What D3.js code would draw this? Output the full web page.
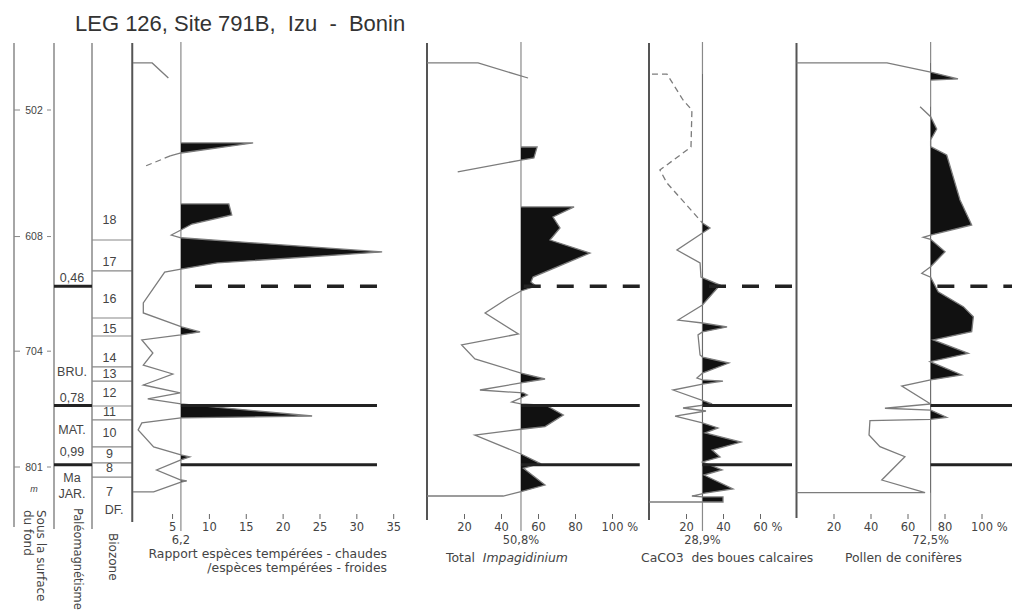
<!DOCTYPE html>
<html>
<head>
<meta charset="utf-8">
<script src="https://cdn.jsdelivr.net/npm/d3@7"></script>
<style>
  body { margin: 0; background: #fff; }
  .sans { font-family: "DejaVu Sans", sans-serif; fill: #444; }
  .arial { font-family: "Liberation Sans", Arial, sans-serif; fill: #444; }
</style>
</head>
<body>
<svg id="chart" width="1012" height="614"></svg>
<script>
// depth scale (m below sea floor)
const depthTicks = [502, 608, 704, 801];

// biozones and paleomagnetic boundaries, in metres
const biozoneBounds = [610.9, 636.8, 676.2, 691.3, 717.2, 729.0, 749.9, 761.6, 784.2, 797.6, 809.4];
const biozoneNames = ["18", "17", "16", "15", "14", "13", "12", "11", "10", "9", "8", "7", "DF."];
const biozoneNameDepths = [594.1, 628.5, 659.5, 684.6, 708.9, 723.1, 738.2, 754.9, 772.5, 790.1, 801.8, 821.9, 836.2];
const reversalDepths = [649.6, 749.4, 799.2];
const paleoNames = ["0,46", "BRU.", "0,78", "MAT.", "0,99", "Ma", "JAR."];
const paleoNameDepths = [641.9, 721.4, 742.4, 769.2, 788.4, 809.4, 822.8];

// axis ticks and reference values of the four curves
const ratioTicks = [5, 10, 15, 20, 25, 30, 35];
const impTicks = [20, 40, 60, 80, 100];
const caTicks = [20, 40, 60];
const pollTicks = [20, 40, 60, 80, 100];
const baselines = [6.2, 50.8, 28.9, 72.5];
const baselineLabels = ["6,2", "50,8%", "28,9%", "72,5%"];

// curves: [depth, value]
const ratioTop = [[462.6, -0.3], [462.6, 2.3], [475.2, 4.5]];
const ratioUpper = [[529.6, 6.2], [529.6, 16.0], [538.0, 6.2], [540.5, 4.75]];
const ratioUpperDash = [[540.5, 4.75], [548.9, 1.4]];
const ratioMain = [
  [580.7, 6.2], [580.7, 12.7], [589.9, 13.1], [597.5, 7.7], [602.5, 6.2], [606.7, 4.9],
  [609.0, 6.2], [620.9, 33.5], [630.1, 11.1], [635.2, 6.2], [637.7, 4.0], [663.6, 1.1],
  [672.0, 1.1], [683.7, 6.3], [687.9, 8.8], [690.4, 6.2], [694.6, 0.9], [705.5, 2.4],
  [715.6, 1.1], [723.1, 5.1], [732.3, 1.1], [739.0, 6.1], [744.0, 1.7], [748.2, 6.2],
  [758.3, 24.0], [759.9, 6.2], [764.1, 0.9], [770.0, 0.4], [784.2, 2.5], [790.9, 6.2],
  [792.6, 7.4], [795.1, 6.2], [803.5, 2.9], [811.9, 6.2], [812.7, 7.0], [813.6, 6.2],
  [821.9, 2.5], [821.9, -0.3]
];

const impTop = [[462.6, 0], [462.6, 27.6], [475.2, 54.6]];
const impUpper = [[533.0, 50.8], [533.0, 59.5], [542.2, 57.8], [543.9, 50.8], [553.9, 16.6]];
const impMain = [
  [583.2, 50.8], [583.2, 79.5], [591.6, 68.1], [600.8, 71.9], [610.9, 66.5], [621.8, 88.1],
  [641.9, 57.3], [646.1, 56.2], [649.4, 58.9], [653.6, 50.8], [659.5, 43.9], [672.0, 31.4],
  [689.6, 49.4], [698.8, 18.7], [710.5, 25.9], [722.3, 50.8], [727.3, 63.8], [730.6, 50.8],
  [736.5, 28.6], [739.0, 52.1], [740.7, 54.2], [746.6, 45.8], [748.2, 50.8], [749.5, 64.5],
  [757.4, 73.7], [767.2, 63.8], [769.4, 50.8], [774.2, 25.9], [790.1, 50.8], [797.9, 61.1],
  [802.1, 52.1], [816.1, 63.8], [821.7, 50.8], [825.3, 41.2], [825.3, 0]
];

const caDash = [[471.9, 1.6], [471.9, 9.7], [493.6, 18.4], [502.0, 23.2], [533.0, 22.7], [552.3, 5.9], [563.1, 9.7], [596.6, 28.9]];
const caMain = [
  [596.6, 28.9], [600.8, 33.0], [605.0, 28.9], [619.3, 15.1], [630.1, 27.6], [641.9, 28.1],
  [648.6, 38.4], [665.3, 28.9], [677.9, 15.7], [680.4, 28.9], [683.7, 42.2], [687.9, 28.9],
  [690.4, 26.5], [707.2, 27.6], [708.9, 28.9], [713.9, 43.2], [722.3, 28.9], [726.5, 25.9],
  [728.1, 28.9], [729.0, 40.0], [731.5, 28.9], [736.5, 13.0], [748.2, 34.1], [751.6, 18.4],
  [754.1, 30.8], [758.3, 14.1], [764.1, 28.9], [768.3, 37.3], [772.5, 30.3], [780.1, 49.7],
  [786.8, 34.1], [792.6, 38.4], [796.8, 28.9], [803.5, 39.5], [807.7, 29.7], [819.4, 45.4],
  [822.8, 30.3], [825.3, 23.2], [826.1, 28.9], [826.1, 40.0], [830.3, 40.0], [830.3, 0]
];

const pollTop = [[462.6, 0], [462.6, 48.9], [470.2, 72.5], [476.0, 87.3], [476.9, 72.5]];
const pollMain = [
  [499.2, 66.8], [507.6, 72.5], [517.9, 75.8], [527.1, 72.5], [532.7, 72.5], [539.7, 81.2],
  [577.4, 88.4], [598.3, 94.7], [606.7, 72.5], [608.6, 68.5], [610.3, 72.5], [620.7, 80.3],
  [633.2, 72.5], [638.8, 67.7], [642.1, 72.5], [654.2, 76.6], [666.7, 90.2], [675.1, 95.6],
  [687.7, 94.7], [694.6, 73.9], [705.8, 92.9], [712.8, 72.2], [723.9, 89.3], [728.1, 72.5],
  [733.2, 56.9], [748.2, 72.5], [751.8, 47.8], [753.3, 72.5], [759.4, 81.2], [761.1, 72.5],
  [762.2, 39.7], [774.2, 39.2], [784.0, 45.1], [792.4, 58.6], [811.9, 46.1], [822.5, 69.5],
  [822.5, 0]
];

const svg = d3.select("#chart");
const y = d3.scaleLinear().domain([502, 801]).range([110, 467]);

// title
svg.append("text").attr("class", "arial").attr("x", 75).attr("y", 30.5)
  .attr("font-size", 22).style("white-space", "pre").style("fill", "#333")
  .text("LEG 126, Site 791B,  Izu  -  Bonin");

// left columns: depth | paleomagnetism | biozone
const colX = [14, 54, 92];
const colBottom = [527, 529, 529];
colX.forEach((cx, i) => {
  svg.append("line").attr("x1", cx).attr("x2", cx).attr("y1", 43).attr("y2", colBottom[i])
    .attr("stroke", "#888").attr("stroke-width", 1.5);
});

depthTicks.forEach(d => {
  svg.append("line").attr("x1", 14).attr("x2", 20).attr("y1", y(d)).attr("y2", y(d)).attr("stroke", "#888");
  svg.append("line").attr("x1", 47).attr("x2", 51).attr("y1", y(d)).attr("y2", y(d)).attr("stroke", "#888");
  svg.append("text").attr("class", "arial").attr("x", 34).attr("y", y(d) + 3.7)
    .attr("text-anchor", "middle").attr("font-size", 10.5).text(d);
});
svg.append("text").attr("class", "arial").attr("x", 34).attr("y", 492)
  .attr("text-anchor", "middle").attr("font-size", 9).attr("font-style", "italic").text("m");

biozoneBounds.forEach(d => {
  svg.append("line").attr("x1", 92).attr("x2", 132).attr("y1", y(d)).attr("y2", y(d))
    .attr("stroke", "#888").attr("stroke-width", 1.2);
});
biozoneNames.forEach((t, i) => {
  svg.append("text").attr("class", "arial").attr("x", t === "DF." ? 114 : 109.5)
    .attr("y", y(biozoneNameDepths[i]) + 4.5).attr("text-anchor", "middle")
    .attr("font-size", 12.5).text(t);
});
reversalDepths.forEach(d => {
  svg.append("line").attr("x1", 54).attr("x2", 92).attr("y1", y(d)).attr("y2", y(d))
    .attr("stroke", "#222").attr("stroke-width", 3);
});
paleoNames.forEach((t, i) => {
  svg.append("text").attr("class", "arial").attr("x", 72)
    .attr("y", y(paleoNameDepths[i]) + 4.5).attr("text-anchor", "middle")
    .attr("font-size", 12.5).text(t);
});

// rotated column titles: text, x, y, size
const colTitles = [["Sous la surface", 37, 510, 12], ["du fond", 24, 510, 12], ["Paléomagnétisme", 74, 508, 11.4], ["Biozone", 109, 533, 12]];
colTitles.forEach(c => {
  svg.append("text").attr("class", "sans").attr("font-size", c[3])
    .attr("transform", `translate(${c[1]},${c[2]}) rotate(90)`).text(c[0]);
});

class StratPanel {
  constructor(_config, _data) {
    this.config = _config;
    this.data = _data;
    this.initVis();
  }

  initVis() {
    let vis = this;
    const c = vis.config;

    vis.x = d3.scaleLinear().domain(c.domain).range(c.range);
    vis.g = svg.append("g");
    const xb = vis.x(c.base);

    // left border of the panel
    vis.g.append("line").attr("x1", vis.x(c.edge)).attr("x2", vis.x(c.edge))
      .attr("y1", 43).attr("y2", c.edgeBottom).attr("stroke", "#555").attr("stroke-width", 2);

    // reference value line
    vis.g.append("line").attr("x1", xb).attr("x2", xb).attr("y1", 42).attr("y2", 531)
      .attr("stroke", "#8a8a8a").attr("stroke-width", 1.2);

    // black fill only right of the reference value
    svg.append("clipPath").attr("id", "clip-" + c.key)
      .append("rect").attr("x", xb).attr("y", 0).attr("width", 1012 - xb).attr("height", 614);

    vis.area = d3.area().y(d => y(d[0])).x0(xb).x1(d => vis.x(d[1]));
    vis.line = d3.line().y(d => y(d[0])).x(d => vis.x(d[1]));

    vis.g.selectAll(".fill")
      .data(vis.data.filter(d => !d.noFill))
      .join("path")
      .attr("class", "fill")
      .attr("clip-path", `url(#clip-${c.key})`)
      .attr("d", d => vis.area(d.pts))
      .attr("fill", "#111");

    vis.g.selectAll(".curve")
      .data(vis.data)
      .join("path")
      .attr("class", "curve")
      .attr("d", d => vis.line(d.pts))
      .attr("fill", "none")
      .attr("stroke", "#7c7c7c")
      .attr("stroke-width", 1.3)
      .attr("stroke-dasharray", d => d.dashed ? "6,4" : null);

    // reversal lines, drawn from the right so the dashes end flush
    reversalDepths.forEach((d, i) => {
      vis.g.append("line")
        .attr("x1", vis.x(c.hEnd)).attr("x2", xb)
        .attr("y1", y(d)).attr("y2", y(d))
        .attr("stroke", "#222")
        .attr("stroke-width", i === 0 ? 3.5 : 3)
        .attr("stroke-dasharray", i === 0 ? "17,16" : null);
    });

    // bottom axis
    const axis = d3.axisBottom(vis.x).tickValues(c.ticks).tickSize(5).tickPadding(4).tickFormat(d => d);
    const ag = vis.g.append("g").attr("transform", "translate(0,514)").call(axis);
    ag.select(".domain").remove();
    ag.selectAll(".tick line").attr("stroke", "#666");
    ag.attr("font-family", null).attr("font-size", null);
    ag.selectAll(".tick text").attr("class", "sans").attr("font-size", 11.5).attr("fill", null);
    if (c.pct) {
      const last = ag.selectAll(".tick text").filter((d, i, n) => i === n.length - 1);
      const w = last.node().getComputedTextLength();
      last.attr("text-anchor", "start").attr("x", -w / 2).text(d => d + " %");
    }

    vis.g.append("text").attr("class", "sans").attr("x", xb).attr("y", 543.5)
      .attr("text-anchor", "middle").attr("font-size", 11.5).text(c.baseLabel);

    // axis title
    const tt = vis.g.append("text").attr("class", "sans").attr("font-size", 12.4)
      .attr("x", c.titleX).attr("y", c.titleY).attr("text-anchor", c.titleAnchor)
      .style("white-space", "pre");
    c.title.forEach(part => {
      tt.append("tspan").attr("font-style", part[1] ? "italic" : null).text(part[0]);
    });
    if (c.title2) {
      vis.g.append("text").attr("class", "sans").attr("font-size", 12.4)
        .attr("x", c.titleX).attr("y", c.titleY + 14).attr("text-anchor", c.titleAnchor)
        .text(c.title2);
    }
  }
}

new StratPanel({
  key: "ratio", domain: [0, 35], range: [135.2, 393.2], edge: -0.4, edgeBottom: 522,
  base: baselines[0], baseLabel: baselineLabels[0], hEnd: 32.8, ticks: ratioTicks, pct: false,
  title: [["Rapport espèces tempérées - chaudes", false]], title2: "/espèces tempérées - froides",
  titleX: 387, titleY: 558, titleAnchor: "end"
}, [
  { pts: ratioTop }, { pts: ratioUpper }, { pts: ratioUpperDash, dashed: true }, { pts: ratioMain }
]);

new StratPanel({
  key: "imp", domain: [0, 100], range: [427, 612], edge: 0, edgeBottom: 520,
  base: baselines[1], baseLabel: baselineLabels[1], hEnd: 115, ticks: impTicks, pct: true,
  title: [["Total  ", false], ["Impagidinium", true]],
  titleX: 446, titleY: 562, titleAnchor: "start"
}, [
  { pts: impTop, noFill: true }, { pts: impUpper }, { pts: impMain }
]);

new StratPanel({
  key: "ca", domain: [0, 60], range: [649, 760], edge: 0, edgeBottom: 520,
  base: baselines[2], baseLabel: baselineLabels[2], hEnd: 77.3, ticks: caTicks, pct: true,
  title: [["CaCO3  des boues calcaires", false]],
  titleX: 641, titleY: 562, titleAnchor: "start"
}, [
  { pts: caDash, dashed: true }, { pts: caMain }
]);

new StratPanel({
  key: "poll", domain: [0, 100], range: [796.5, 981.5], edge: 0, edgeBottom: 518,
  base: baselines[3], baseLabel: baselineLabels[3], hEnd: 121, ticks: pollTicks, pct: true,
  title: [["Pollen de conifères", false]],
  titleX: 845, titleY: 562, titleAnchor: "start"
}, [
  { pts: pollTop }, { pts: pollMain }
]);
</script>
</body>
</html>
